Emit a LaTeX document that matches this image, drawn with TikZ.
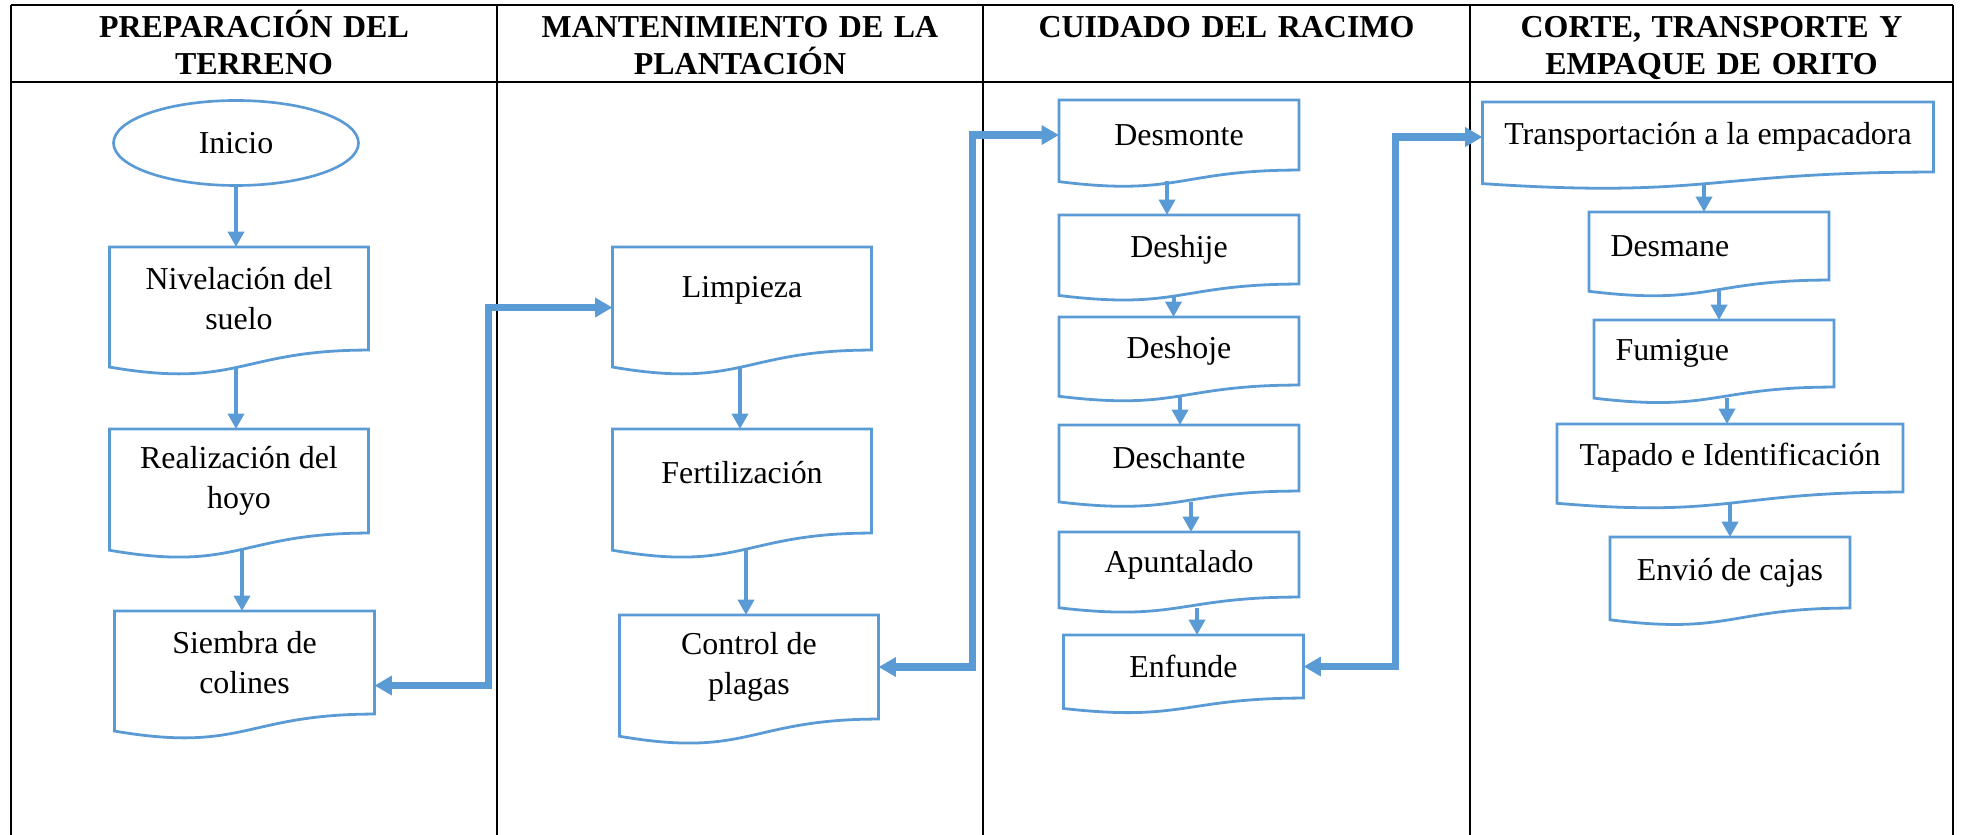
\documentclass[tikz,border=0pt]{standalone}
\usepackage{fontspec}
\setmainfont{Liberation Serif}
\usetikzlibrary{shapes.geometric,arrows.meta,calc}

\newdimen\pxu
\pxu=0.376pt
\definecolor{flowblue}{HTML}{5B9BD5}

\tikzset{
  grid/.style={line width=0.8pt},
  heading/.style={anchor=base, align=center, text width=#1*\pxu,
    font=\fontsize{12}{13.9}\selectfont\bfseries},
  startnode/.style={ellipse, draw=flowblue, line width=1pt, inner sep=0pt,
    minimum width=245*\pxu, minimum height=85*\pxu, font=\fontsize{12}{15}\selectfont},
  docbox/.style 2 args={rectangle, draw=none, inner sep=0pt, anchor=north, align=center,
    minimum width=#1*\pxu, minimum height=#2*\pxu, font=\fontsize{12}{15}\selectfont},
  leftdoc/.style={align=left, inner xsep=21*\pxu, text width=(#1-42)*\pxu},
  docline/.style={draw=flowblue, line width=1.05pt},
  flow/.style={draw=flowblue, line width=1.5pt, -{Triangle[length=5.8pt,width=6pt]}},
  link/.style={draw=flowblue, line width=2.8pt,
    {Triangle[length=6.5pt,width=7pt]}-{Triangle[length=6.5pt,width=7pt]}},
}

% arrow from the wavy bottom of #1 down to the top of #2, moved by #3
\newcommand{\flowdown}[3]{%
  \draw[flow] ($(#1.north -| #2.north)!1.163!(#1.south -| #2.north)+(#3,0)$) -- ($(#2.north)+(#3,0)$);}

\begin{document}
\begin{tikzpicture}[x=0.376pt, y=-0.376pt]
  \useasboundingbox (0,0) rectangle (1963,835);

  % Table
  \draw[grid] (11,5) -- (1953,5);
  \draw[grid] (11,82) -- (1953,82);
  \foreach \x in {11,497,983,1470,1953}
    \draw[grid] (\x,5) -- (\x,835);

  \node[heading=470] (head1) at (254,38) {PREPARACIÓN DEL\\TERRENO};
  \node[heading=470] (head2) at (740,38) {MANTENIMIENTO DE LA\\PLANTACIÓN};
  \node[heading=470] (head3) at (1226.5,38) {CUIDADO DEL RACIMO};
  \node[heading=470] (head4) at (1711.5,38) {CORTE, TRANSPORTE Y\\EMPAQUE DE ORITO};

  % Preparacion del terreno
  \node[startnode] (inicio) at (236,143) {Inicio};
  \node[docbox={258}{102}] (nivel) at (239,247) {Nivelación del\\suelo};
  \node[docbox={258}{103}] (realiz) at (239,429) {Realización del\\hoyo};
  \node[docbox={259}{102}] (siembra) at (244.5,611) {Siembra de\\colines};

  % Mantenimiento de la plantacion
  \node[docbox={258}{102}, text depth=8.5pt] (limpieza) at (742,247) {Limpieza};
  \node[docbox={258}{103}, text depth=6.5pt] (fertil) at (742,429) {Fertilización};
  \node[docbox={258}{103}] (control) at (749,615) {Control de\\plagas};

  % Cuidado del racimo
  \node[docbox={239}{69}] (desmonte) at (1179,100) {Desmonte};
  \node[docbox={239}{68}] (deshije) at (1179,215) {Deshije};
  \node[docbox={239}{67}] (deshoje) at (1179,317) {Deshoje};
  \node[docbox={239}{65}] (deschante) at (1179,425) {Deschante};
  \node[docbox={239}{64}] (apunt) at (1179,532) {Apuntalado};
  \node[docbox={239}{62}] (enfunde) at (1183.5,635) {Enfunde};

  % Corte, transporte y empaque
  \node[docbox={450}{69}] (transp) at (1708,102) {Transportación a la empacadora};
  \node[docbox={239}{67}, leftdoc=239] (desmane) at (1709,212) {Desmane};
  \node[docbox={239}{66}, leftdoc=239] (fumigue) at (1714,320) {Fumigue};
  \node[docbox={345}{67}] (tapado) at (1730,424) {Tapado e Identificación};
  \node[docbox={239}{70}] (envio) at (1730,537) {Envió de cajas};

  % document outlines
  \foreach \n in {nivel,realiz,siembra,limpieza,fertil,control,desmonte,deshije,deshoje,
                  deschante,apunt,enfunde,transp,desmane,fumigue,tapado,envio}
    \draw[docline] (\n.north west) -- (\n.north east) -- (\n.south east)
      .. controls (\n.south) and ($(\n.north)!1.38!(\n.south)$) .. ($(\n.north west)!1.165!(\n.south west)$) -- cycle;

  % Arrows
  \draw[flow] (inicio.south) -- (inicio.south |- nivel.north);
  \flowdown{nivel}{realiz}{-3}
  \flowdown{realiz}{siembra}{-2.5}
  \flowdown{limpieza}{fertil}{-2}
  \flowdown{fertil}{control}{-3}
  \flowdown{desmonte}{deshije}{-12}
  \flowdown{deshije}{deshoje}{-5.5}
  \flowdown{deshoje}{deschante}{1}
  \flowdown{deschante}{apunt}{12}
  \flowdown{apunt}{enfunde}{13.5}
  \flowdown{transp}{desmane}{-5}
  \flowdown{desmane}{fumigue}{5}
  \flowdown{fumigue}{tapado}{-3}
  \flowdown{tapado}{envio}{0}

  % links between columns
  \coordinate (busA) at (488.5,0);
  \coordinate (busB) at (972.5,0);
  \coordinate (busC) at (1395.6,0);
  \coordinate (sA) at ($(siembra.east)+(0,23)$);
  \coordinate (lA) at ($(limpieza.west)+(0,9)$);
  \draw[link] (sA) -- (sA -| busA) |- (lA);
  \draw[link] (control.east) -- (control.east -| busB) |- (desmonte.west);
  \draw[link] (enfunde.east) -- (enfunde.east -| busC) |- (transp.west);
\end{tikzpicture}
\end{document}
